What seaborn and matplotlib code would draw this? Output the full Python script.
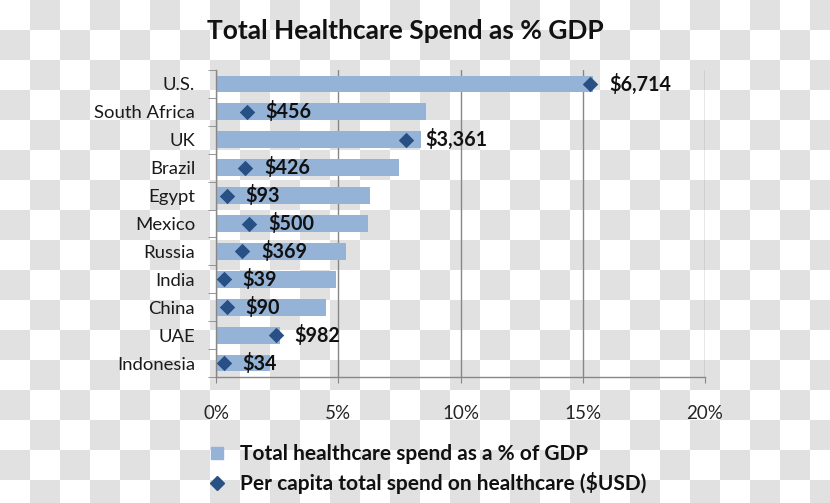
import numpy as np
import pandas as pd
import matplotlib
matplotlib.use("Agg")
import matplotlib.pyplot as plt
import seaborn as sns
from matplotlib.colors import ListedColormap
from matplotlib.lines import Line2D

# Chart data
countries = ["U.S.", "South Africa", "UK", "Brazil", "Egypt", "Mexico",
             "Russia", "India", "China", "UAE", "Indonesia"]
pct_gdp = [15.4, 8.6, 8.4, 7.5, 6.3, 6.2, 5.3, 4.9, 4.5, 2.6, 2.2]
per_capita = [6714, 456, 3361, 426, 93, 500, 369, 39, 90, 982, 34]
x_ticks = [0, 5, 10, 15, 20]
legend_labels = ["Total healthcare spend as a % of GDP",
                 "Per capita total spend on healthcare ($USD)"]

BAR_COLOR = "#95b3d7"
DIAMOND_COLOR = "#285085"
GRID_COLOR = "#878787"

sns.set_style("white")
plt.rcParams["font.family"] = ["Lato", "DejaVu Sans"]

W, H = 830, 503
fig = plt.figure(figsize=(W / 100, H / 100), dpi=100)

# checkered backdrop
yy, xx = np.indices((H, W))
checker = ((xx // 30 + yy // 30) % 2).astype(float)
fig.figimage(checker, cmap=ListedColormap(["white", "#e1e1e1"]),
             origin="upper", zorder=-1)

ax = fig.add_axes([216 / W, 1 - 377 / H, (705 - 216) / W, (377 - 70) / H])
ax.set_facecolor("none")

df = pd.DataFrame({"country": countries, "pct_gdp": pct_gdp,
                   "per_capita": per_capita})
sns.barplot(data=df, x="pct_gdp", y="country", color=BAR_COLOR,
            saturation=1, width=0.6, linewidth=0, ax=ax)

n = len(countries)
ax.set_xlim(0, 20)
ax.set_xticks(x_ticks)
ax.set_xticklabels([f"{t}%" for t in x_ticks])
ax.set_xlabel("")
ax.set_ylabel("")
ax.set_axisbelow(True)
ax.xaxis.grid(True, color=GRID_COLOR, lw=1)
ax.yaxis.grid(False)
for s in ["top", "right"]:
    ax.spines[s].set_visible(False)
for s in ["left", "bottom"]:
    ax.spines[s].set_color(GRID_COLOR)
    ax.spines[s].set_linewidth(1)

ax.tick_params(axis="x", direction="out", length=4, color=GRID_COLOR,
               pad=16, labelsize=13.5, labelcolor="#262626", bottom=True)
ax.set_yticks(np.arange(-0.5, n, 1), minor=True)
ax.tick_params(axis="y", which="major", length=0, pad=15, labelsize=13.3,
               labelcolor="#1a1a1a")
ax.tick_params(axis="y", which="minor", direction="out", length=6,
               color=GRID_COLOR, left=True)

# per-capita diamonds on a hidden secondary x scale
ax2 = ax.twiny()
sns.scatterplot(x=per_capita, y=np.arange(n), ax=ax2, marker="D", s=62,
                color=DIAMOND_COLOR, linewidth=0, legend=False, zorder=3)
ax2.set_xlim(-107, 8809)
ax.set_ylim(n - 0.5, -0.5)
ax2.set_axis_off()
for i, v in enumerate(per_capita):
    ax2.annotate(f"${v:,}", xy=(v, i), xytext=(13.5, 0),
                 textcoords="offset points", ha="left", va="center",
                 fontsize=14.2, fontweight="bold", color="#111111")

fig.text(405 / W, 1 - 31 / H, "Total Healthcare Spend as % GDP",
         ha="center", va="center", fontsize=19, fontweight="bold",
         color="#111111")

handles = [
    Line2D([], [], ls="none", marker="s", ms=8, color=BAR_COLOR),
    Line2D([], [], ls="none", marker="D", ms=7.5, color=DIAMOND_COLOR),
]
leg = fig.legend(handles, legend_labels, loc="upper left",
                 bbox_to_anchor=(209 / W, 1 - 444 / H), frameon=False,
                 handlelength=0.8, handletextpad=0.7, labelspacing=0.38,
                 borderpad=0, borderaxespad=0,
                 prop={"weight": "bold", "size": 15})
for t in leg.get_texts():
    t.set_color("#111111")

fig.savefig("out.png", dpi=100)
